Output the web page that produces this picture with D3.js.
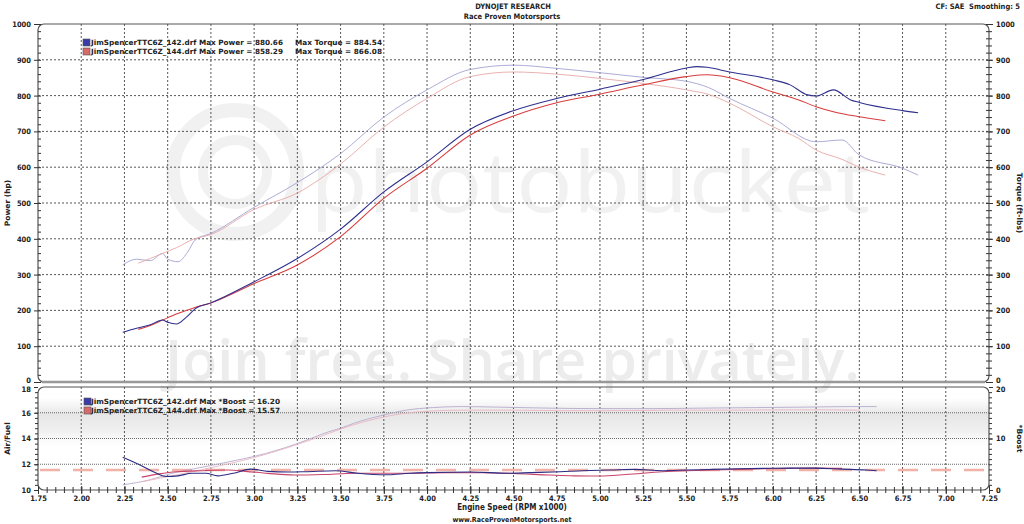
<!DOCTYPE html>
<html><head><meta charset="utf-8">
<script src="https://cdn.jsdelivr.net/npm/d3@7"></script>
<style>
html,body{margin:0;padding:0;background:#fff;}
svg{display:block;font-family:"DejaVu Sans",Verdana,sans-serif;}
</style></head>
<body><svg id="c" width="1024" height="524"></svg>
<script>
// ---------- data ----------
const bluePowerRpm = [2.24,2.32,2.40,2.47,2.50,2.55,2.61,2.66,2.75,3.00,3.25,3.50,3.75,4.00,4.25,4.50,4.75,5.00,5.25,5.50,5.56,5.62,5.75,6.00,6.10,6.20,6.25,6.35,6.45,6.50,6.75,6.84];
const bluePower    = [139,150,160,173,167,162,182,205,221,280,345,427,531,615,706,758,792,818,845,877,881,879,866,844,830,802,799,816,788,781,758,752];
const blueTorqueRpm= [2.24,2.32,2.40,2.47,2.50,2.56,2.61,2.66,2.75,3.00,3.25,3.50,3.75,4.00,4.25,4.50,4.75,5.00,5.25,5.50,5.63,5.75,6.00,6.25,6.40,6.50,6.75,6.84];
const blueTorque   = [327,343,339,359,343,336,359,397,415,488,557,638,740,816,873,885,876,864,851,840,822,792,737,671,676,634,597,578];
const redPowerRpm  = [2.33,2.40,2.47,2.55,2.65,2.75,3.00,3.25,3.50,3.75,4.00,4.25,4.50,4.75,5.00,5.25,5.50,5.62,5.75,6.00,6.15,6.25,6.35,6.50,6.65];
const redPower     = [147,158,173,190,207,221,275,327,406,513,597,690,743,780,804,830,853,858,850,810,788,769,755,741,730];
const redTorqueRpm = [2.33,2.40,2.47,2.55,2.65,2.75,3.00,3.25,3.50,3.75,4.00,4.25,4.50,4.75,5.00,5.25,5.50,5.63,5.75,6.00,6.15,6.25,6.40,6.50,6.65];
const redTorque    = [332,345,359,375,399,412,482,528,609,712,792,853,866,860,848,834,816,803,779,713,680,648,622,600,578];

const blueAfrRpm = [2.24,2.34,2.42,2.49,2.56,2.64,2.72,2.79,2.88,2.98,3.08,3.20,3.29,3.47,3.60,3.76,3.90,4.00,4.25,4.47,4.60,4.77,4.90,5.06,5.20,5.36,5.50,5.65,5.80,5.95,6.10,6.24,6.40,6.54,6.60];
const blueAfr    = [12.55,11.95,11.4,11.05,11.1,11.3,11.3,11.1,11.3,11.62,11.45,11.4,11.42,11.5,11.3,11.18,11.3,11.35,11.4,11.3,11.35,11.42,11.5,11.55,11.6,11.5,11.55,11.6,11.65,11.68,11.7,11.7,11.62,11.55,11.5];
const redAfrRpm  = [2.35,2.45,2.55,2.70,2.85,2.95,3.08,3.23,3.40,3.58,3.75,3.88,4.10,4.32,4.50,4.71,4.85,5.00,5.15,5.36,5.50,5.65,5.80,5.95,6.10,6.25,6.40];
const redAfr     = [11.0,11.25,11.42,11.5,11.55,11.45,11.29,11.16,11.2,11.3,11.3,11.3,11.35,11.34,11.28,11.16,11.1,11.09,11.2,11.42,11.5,11.55,11.6,11.65,11.68,11.7,11.68];
const blueBoostRpm = [2.24,2.40,2.52,2.65,2.78,2.90,3.01,3.12,3.24,3.35,3.43,3.50,3.58,3.73,3.88,4.03,4.20,4.40,4.70,5.00,5.30,5.60,5.90,6.20,6.45,6.60];
const blueBoost    = [1.0,2.0,3.2,4.1,4.95,5.8,6.6,7.6,8.9,10.3,11.3,12.0,13.0,14.4,15.5,16.0,16.2,16.1,15.9,15.8,15.8,15.9,16.0,16.1,16.2,16.2];
const redBoostRpm  = [2.35,2.50,2.65,2.80,3.00,3.20,3.40,3.55,3.70,3.85,4.00,4.20,4.50,4.80,5.10,5.40,5.70,6.00,6.30,6.50];
const redBoost     = [1.6,2.6,3.6,4.7,6.3,8.3,10.6,12.4,13.8,14.8,15.3,15.5,15.5,15.4,15.4,15.5,15.5,15.55,15.57,15.5];
const afrTarget = 11.55;

const xTicks = d3.range(0,23).map(i => 1.75 + i*0.25);
const powerTicks = d3.range(0,11).map(i => i*100);
const afrTicks = [10,12,14,16,18];
const boostTicks = [0,10,20];

const legendTop = [
  {name:"JimSpencerTTC6Z_142.drf", power:"880.66", torque:"884.54", color:"#3b3ba8"},
  {name:"JimSpencerTTC6Z_144.drf", power:"858.29", torque:"866.08", color:"#d86a6a"}
];
const legendBottom = [
  {name:"JimSpencerTTC6Z_142.drf", boost:"16.20", color:"#3b3ba8"},
  {name:"JimSpencerTTC6Z_144.drf", boost:"15.57", color:"#d86a6a"}
];

// ---------- scales ----------
const svg = d3.select("#c");
const x = d3.scaleLinear().domain([1.75,7.25]).range([38,989]);
const yP = d3.scaleLinear().domain([0,1000]).range([382,24]);
const yA = d3.scaleLinear().domain([10,18]).range([490,387]);
const yB = d3.scaleLinear().domain([0,20]).range([490,387]);

// ---------- watermark ----------
const defs = svg.append("defs");
const g1 = defs.append("linearGradient").attr("id","band").attr("x1",0).attr("x2",0).attr("y1",0).attr("y2",1);
g1.append("stop").attr("offset","0%").attr("stop-color","#ececec").attr("stop-opacity",0);
g1.append("stop").attr("offset","35%").attr("stop-color","#e6e6e6").attr("stop-opacity",1);
g1.append("stop").attr("offset","70%").attr("stop-color","#ececec").attr("stop-opacity",0.8);
g1.append("stop").attr("offset","100%").attr("stop-color","#f4f4f4").attr("stop-opacity",0);
svg.append("rect").attr("x",x(1.75)).attr("y",yA(17.2)).attr("width",x(7.25)-x(1.75)).attr("height",yA(13.4)-yA(17.2)).attr("fill","url(#band)");

svg.append("circle").attr("cx",235).attr("cy",172).attr("r",62).attr("fill","none").attr("stroke","#f1f1f1").attr("stroke-width",14);
svg.append("circle").attr("cx",235).attr("cy",172).attr("r",32).attr("fill","none").attr("stroke","#f1f1f1").attr("stroke-width",10);
svg.append("text").attr("x",310).attr("y",212).attr("font-family","Open Sans, DejaVu Sans").attr("font-size",84)
  .attr("fill","#f1f1f1").attr("textLength",560).attr("lengthAdjust","spacingAndGlyphs").text("photobucket");
svg.append("text").attr("x",165).attr("y",380).attr("font-family","Open Sans, DejaVu Sans").attr("font-weight",600).attr("font-size",56)
  .attr("fill","#ececec").attr("textLength",695).attr("lengthAdjust","spacingAndGlyphs").text("Join free. Share privately.");

// ---------- grids ----------
const grid = svg.append("g");
xTicks.filter(v => v>1.8 && v<7.2).forEach(v=>{
  grid.append("line").attr("x1",x(v)).attr("x2",x(v)).attr("y1",yP(1000)).attr("y2",yP(0))
    .attr("stroke","#444").attr("stroke-width",0.9).attr("stroke-dasharray","2,2");
  grid.append("line").attr("x1",x(v)).attr("x2",x(v)).attr("y1",yA(18)).attr("y2",yA(10))
    .attr("stroke","#444").attr("stroke-width",0.9).attr("stroke-dasharray","2,2");
});
powerTicks.filter(v=>v>0 && v<1000).forEach(v=>{
  grid.append("line").attr("x1",x(1.75)).attr("x2",x(7.25)).attr("y1",yP(v)).attr("y2",yP(v))
    .attr("stroke","#444").attr("stroke-width",0.9).attr("stroke-dasharray","2,2");
});
afrTicks.filter(v=>v>10 && v<18).forEach(v=>{
  grid.append("line").attr("x1",x(1.75)).attr("x2",x(7.25)).attr("y1",yA(v)).attr("y2",yA(v))
    .attr("stroke","#555").attr("stroke-width",0.9).attr("stroke-dasharray","1,1");
});

// ---------- frames ----------
svg.append("rect").attr("x",x(1.75)).attr("y",yP(1000)).attr("width",x(7.25)-x(1.75)).attr("height",yP(0)-yP(1000))
  .attr("rx",6).attr("fill","none").attr("stroke","#555").attr("stroke-width",1.2);
svg.append("line").attr("x1",x(1.75)+4).attr("x2",x(7.25)-4).attr("y1",yP(0)).attr("y2",yP(0)).attr("stroke","#999").attr("stroke-width",2.5);
svg.append("rect").attr("x",x(1.75)).attr("y",yA(18)).attr("width",x(7.25)-x(1.75)).attr("height",yA(10)-yA(18))
  .attr("rx",6).attr("fill","none").attr("stroke","#555").attr("stroke-width",1.2);

// ---------- axes ----------
function styleAxis(g){
  g.select(".domain").remove();
  g.selectAll("line").attr("stroke","#333");
  g.selectAll("text").attr("font-size",7.5).attr("font-weight","bold").attr("fill","#222").attr("font-family","DejaVu Sans Condensed, DejaVu Sans");
}
// nudge the labels that sit where the two panels meet
function nudge(top, bottom){
  return g => g.selectAll(".tick").each(function(d){
    const t = d3.select(this).select("text");
    if (d === top) t.attr("dy","0.05em");
    if (d === bottom) t.attr("dy","0.62em");
  });
}
const minorP = d3.range(0,1001,20);
svg.append("g").attr("transform",`translate(${x(1.75)},0)`).call(d3.axisLeft(yP).tickValues(minorP).tickSize(3).tickFormat("")).call(styleAxis)
  .selectAll("line").attr("x2",3);
svg.append("g").attr("transform",`translate(${x(1.75)},0)`).call(d3.axisLeft(yP).tickValues(powerTicks).tickSize(4).tickPadding(3).tickFormat(d3.format("d"))).call(styleAxis).call(nudge(0,null));
svg.append("g").attr("transform",`translate(${x(7.25)},0)`).call(d3.axisRight(yP).tickValues(minorP).tickSize(3).tickFormat("")).call(styleAxis)
  .selectAll("line").attr("x2",-3).attr("x1",3);
svg.append("g").attr("transform",`translate(${x(7.25)},0)`).call(d3.axisRight(yP).tickValues(powerTicks).tickSize(4).tickPadding(3).tickFormat(d3.format("d"))).call(styleAxis).call(nudge(0,null));

svg.append("g").attr("transform",`translate(${x(1.75)},0)`).call(d3.axisLeft(yA).tickValues(d3.range(10,18.01,0.4)).tickSize(3).tickFormat("")).call(styleAxis);
svg.append("g").attr("transform",`translate(${x(1.75)},0)`).call(d3.axisLeft(yA).tickValues(afrTicks).tickSize(4).tickPadding(3).tickFormat(d3.format("d"))).call(styleAxis).call(nudge(null,18));
svg.append("g").attr("transform",`translate(${x(7.25)},0)`).call(d3.axisRight(yB).tickValues(d3.range(0,20.01,1)).tickSize(3).tickFormat("")).call(styleAxis);
svg.append("g").attr("transform",`translate(${x(7.25)},0)`).call(d3.axisRight(yB).tickValues(boostTicks).tickSize(4).tickPadding(3).tickFormat(d3.format("d"))).call(styleAxis).call(nudge(null,20));

const minorX = d3.range(0,111).map(i=>1.75+i*0.05);
svg.append("g").attr("transform",`translate(0,${yA(10)})`).call(d3.axisBottom(x).tickValues(minorX).tickSize(3).tickFormat("")).call(styleAxis)
  .selectAll("line").attr("y1",-3).attr("y2",3);
svg.append("g").attr("transform",`translate(0,${yA(10)})`).call(d3.axisBottom(x).tickValues(xTicks).tickSize(4).tickPadding(2).tickFormat(d3.format(".2f"))).call(styleAxis)
  .selectAll("line").attr("y1",-4);

// ---------- curves ----------
const lineP = (rpm,vals,ys) => d3.line().curve(d3.curveMonotoneX).x((d,i)=>x(rpm[i])).y(d=>ys(d))(vals);
const marks = svg.append("g").attr("fill","none").attr("stroke-linejoin","round");
// AFR target
marks.append("line").attr("x1",x(1.75)+2).attr("x2",x(7.25)-2).attr("y1",yA(afrTarget)).attr("y2",yA(afrTarget))
  .attr("stroke","#f0a498").attr("stroke-width",2.6).attr("stroke-dasharray","20,13").attr("opacity",0.85);
// torque
marks.append("path").attr("d",lineP(blueTorqueRpm,blueTorque,yP)).attr("stroke","#a3a3d2").attr("stroke-width",0.9);
marks.append("path").attr("d",lineP(redTorqueRpm,redTorque,yP)).attr("stroke","#e6a8a8").attr("stroke-width",0.9);
// boost
marks.append("path").attr("d",lineP(blueBoostRpm,blueBoost,yB)).attr("stroke","#b5aacd").attr("stroke-width",0.9);
marks.append("path").attr("d",lineP(redBoostRpm,redBoost,yB)).attr("stroke","#e9b6c2").attr("stroke-width",0.9);
// power
marks.append("path").attr("d",lineP(redPowerRpm,redPower,yP)).attr("stroke","#d83c3c").attr("stroke-width",1.05);
marks.append("path").attr("d",lineP(bluePowerRpm,bluePower,yP)).attr("stroke","#2e2e8e").attr("stroke-width",1.05);
// AFR
marks.append("path").attr("d",lineP(redAfrRpm,redAfr,yA)).attr("stroke","#c8446a").attr("stroke-width",1.1);
marks.append("path").attr("d",lineP(blueAfrRpm,blueAfr,yA)).attr("stroke","#2c2c84").attr("stroke-width",1.1);

// ---------- legends ----------
const lg = svg.append("g").attr("font-size",7.2).attr("font-weight","bold").attr("fill","#222");
legendTop.forEach((d,i)=>{
  const yy = 45 + i*9;
  lg.append("rect").attr("x",83).attr("y",yy-6).attr("width",7).attr("height",7).attr("fill",d.color).attr("stroke","#555").attr("stroke-width",0.6);
  lg.append("text").attr("x",91).attr("y",yy).attr("textLength",192).attr("lengthAdjust","spacingAndGlyphs")
    .text(`${d.name} Max Power = ${d.power}`);
  lg.append("text").attr("x",295).attr("y",yy).attr("textLength",87).attr("lengthAdjust","spacingAndGlyphs")
    .text(`Max Torque = ${d.torque}`);
});
legendBottom.forEach((d,i)=>{
  const yy = 404 + i*9;
  lg.append("rect").attr("x",84).attr("y",yy-6).attr("width",7).attr("height",7).attr("fill",d.color).attr("stroke","#555").attr("stroke-width",0.6);
  lg.append("text").attr("x",91).attr("y",yy).attr("textLength",189).attr("lengthAdjust","spacingAndGlyphs")
    .text(`${d.name} Max *Boost = ${d.boost}`);
});

// ---------- titles ----------
const tt = svg.append("g").attr("font-weight","bold").attr("fill","#222").attr("font-family","DejaVu Sans Condensed, DejaVu Sans");
tt.append("text").attr("x",513).attr("y",9).attr("text-anchor","middle").attr("font-size",7.5).text("DYNOJET RESEARCH");
tt.append("text").attr("x",512).attr("y",19).attr("text-anchor","middle").attr("font-size",7.5).text("Race Proven Motorsports");
tt.append("text").attr("x",1020).attr("y",9).attr("text-anchor","end").attr("font-size",7.5).text("CF: SAE\u00A0\u00A0Smoothing: 5");
tt.append("text").attr("x",512).attr("y",510).attr("text-anchor","middle").attr("font-size",8).text("Engine Speed (RPM x1000)");
tt.append("text").attr("x",512).attr("y",522).attr("text-anchor","middle").attr("font-size",7).text("www.RaceProvenMotorsports.net");
tt.append("text").attr("transform",`translate(10,${yP(500)}) rotate(-90)`).attr("text-anchor","middle").attr("font-size",7.5).attr("font-family","DejaVu Sans").text("Power (hp)");
tt.append("text").attr("transform",`translate(1017,${yP(500)}) rotate(90)`).attr("text-anchor","middle").attr("font-size",7.5).attr("font-family","DejaVu Sans").text("Torque (ft-lbs)");
tt.append("text").attr("transform",`translate(10,${yA(14)}) rotate(-90)`).attr("text-anchor","middle").attr("font-size",7.5).attr("font-family","DejaVu Sans").text("Air/Fuel");
tt.append("text").attr("transform",`translate(1017,${yA(14)}) rotate(90)`).attr("text-anchor","middle").attr("font-size",7.5).attr("font-family","DejaVu Sans").text("*Boost");
</script></body></html>
